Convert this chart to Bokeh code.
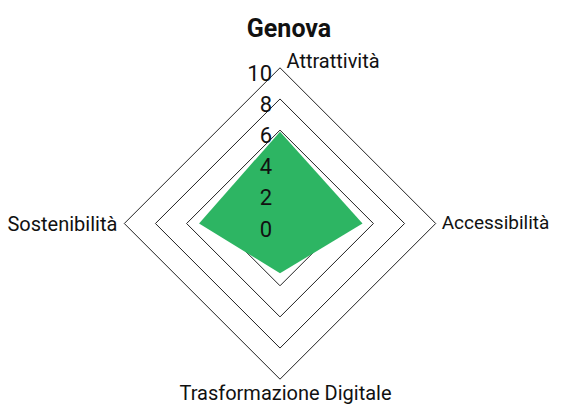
from bokeh.plotting import figure
from bokeh.core.properties import value
from bokeh.embed import file_html
from bokeh.resources import INLINE
import numpy as np

# ---- data ----
city = "Genova"
categories = ["Attrattività", "Accessibilità", "Trasformazione Digitale", "Sostenibilità"]
scores = [5.9, 5.3, 3.2, 5.2]
grid_levels = [4, 6, 8, 10]
tick_values = [0, 2, 4, 6, 8, 10]
tick_labels = ["0", "2", "4", "6", "8", "10"]

FONT = "Roboto"
GREEN = "#2db563"
INK = "#111111"

# angles: top, right, bottom, left
angles = [np.pi / 2, 0.0, -np.pi / 2, np.pi]

W, H = 550, 404               # page is 566x420 with an 8px margin
scale = 15.57                 # pixels per unit
cx_px, cy_px = 279.5, 223.0   # centre of the radar inside the canvas

p = figure(width=W, height=H, output_backend="svg", toolbar_location=None,
           x_range=(-cx_px / scale, (W - cx_px) / scale),
           y_range=(-(H - cy_px) / scale, cy_px / scale),
           min_border=0)
p.axis.visible = False
p.grid.visible = False
p.outline_line_color = None
p.background_fill_color = "white"

# grid diamonds
for lv in grid_levels:
    xs = [lv * np.cos(a) for a in angles] + [lv * np.cos(angles[0])]
    ys = [lv * np.sin(a) for a in angles] + [lv * np.sin(angles[0])]
    p.line(xs, ys, line_color="#222222", line_width=1)

# data polygon
px = [s * np.cos(a) for s, a in zip(scores, angles)]
py = [s * np.sin(a) for s, a in zip(scores, angles)]
p.patch(px, py, fill_color=GREEN, line_color=None)

# radial tick labels
p.text(x=[0] * len(tick_values), y=tick_values, text=tick_labels,
       text_font=value(FONT), text_font_size="22px", text_color=INK,
       text_align="right", text_baseline="alphabetic", x_offset=-8, y_offset=5)

R = grid_levels[-1]
# category labels
p.text(x=[0.0], y=[R], text=[categories[0]], text_font=value(FONT),
       text_font_size="20px", text_color=INK, text_align="left",
       text_baseline="alphabetic", x_offset=6.5, y_offset=-7)
p.text(x=[R], y=[0.0], text=[categories[1]], text_font=value(FONT),
       text_font_size="19px", text_color=INK, text_align="left",
       text_baseline="alphabetic", x_offset=6, y_offset=-1)
p.text(x=[0.0], y=[-R], text=[categories[2]], text_font=value(FONT),
       text_font_size="20px", text_color=INK, text_align="center",
       text_baseline="alphabetic", x_offset=5.5, y_offset=14)
p.text(x=[-R], y=[0.0], text=[categories[3]], text_font=value(FONT),
       text_font_size="20px", text_color=INK, text_align="right",
       text_baseline="alphabetic", x_offset=-7, y_offset=0)

# title
p.text(x=[0.0], y=[(cy_px - 28) / scale], text=[city], text_font=value(FONT),
       text_font_size="25px", text_font_style="bold", text_color=INK,
       text_align="center", text_baseline="alphabetic", x_offset=9)

open("out.html", "w").write(file_html(p, INLINE))
